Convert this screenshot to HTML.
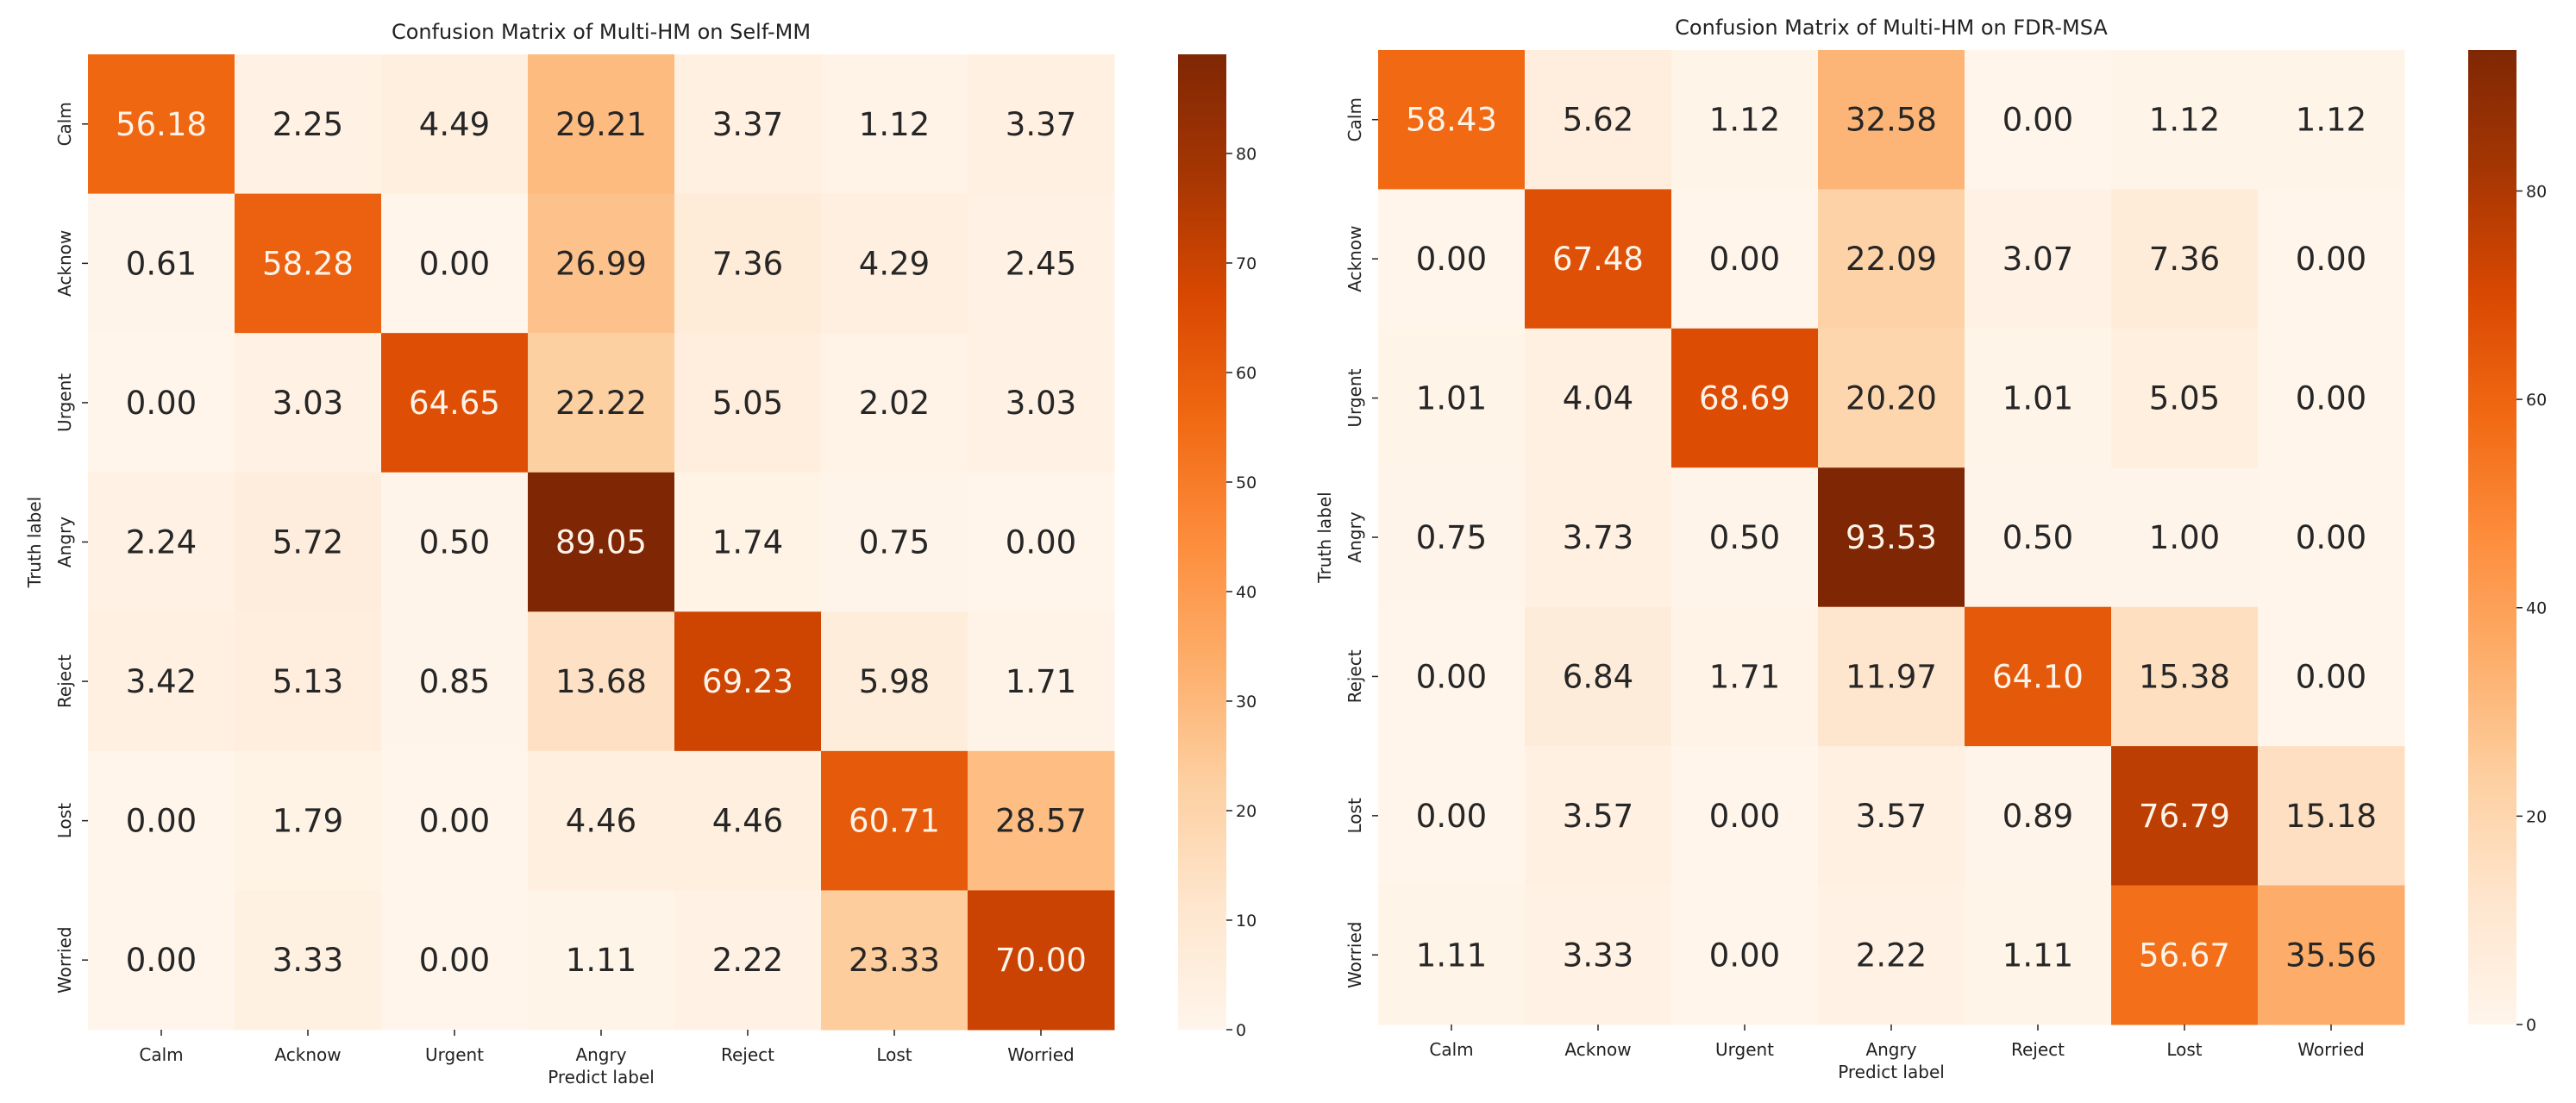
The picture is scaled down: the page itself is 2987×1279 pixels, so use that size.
<!DOCTYPE html>
<html><head><meta charset="utf-8"><style>
html,body{margin:0;padding:0;background:#fff;}
svg{display:block;font-family:"DejaVu Sans","Liberation Sans",sans-serif;}
</style></head><body>
<svg id="chart" width="2987" height="1279" viewBox="0 0 2987 1279"></svg>
<script>
const labels = ["Calm","Acknow","Urgent","Angry","Reject","Lost","Worried"];
const selfMM = [
 [56.18,2.25,4.49,29.21,3.37,1.12,3.37],
 [0.61,58.28,0.00,26.99,7.36,4.29,2.45],
 [0.00,3.03,64.65,22.22,5.05,2.02,3.03],
 [2.24,5.72,0.50,89.05,1.74,0.75,0.00],
 [3.42,5.13,0.85,13.68,69.23,5.98,1.71],
 [0.00,1.79,0.00,4.46,4.46,60.71,28.57],
 [0.00,3.33,0.00,1.11,2.22,23.33,70.00]
];
const fdrMSA = [
 [58.43,5.62,1.12,32.58,0.00,1.12,1.12],
 [0.00,67.48,0.00,22.09,3.07,7.36,0.00],
 [1.01,4.04,68.69,20.20,1.01,5.05,0.00],
 [0.75,3.73,0.50,93.53,0.50,1.00,0.00],
 [0.00,6.84,1.71,11.97,64.10,15.38,0.00],
 [0.00,3.57,0.00,3.57,0.89,76.79,15.18],
 [1.11,3.33,0.00,2.22,1.11,56.67,35.56]
];
const leftTicks = [0,10,20,30,40,50,60,70,80];
const rightTicks = [0,20,40,60,80];
const titles = ["Confusion Matrix of Multi-HM on Self-MM","Confusion Matrix of Multi-HM on FDR-MSA"];

const NS="http://www.w3.org/2000/svg";
const svg=document.getElementById('chart');
const stops=["#fff5eb","#fee6ce","#fdd0a2","#fdae6b","#fd8d3c","#f16913","#d94801","#a63603","#7f2704"];
function hex(h){return [1,3,5].map(i=>parseInt(h.substr(i,2),16));}
function cmap(t){t=Math.max(0,Math.min(1,t));const p=t*8;const i=Math.min(7,Math.floor(p));const f=p-i;const a=hex(stops[i]),b=hex(stops[i+1]);return a.map((v,k)=>Math.round(v+(b[k]-v)*f));}
function rgb(c){return `rgb(${c[0]},${c[1]},${c[2]})`;}
function lum(c){const l=c.map(v=>{v/=255;return v<=0.03928?v/12.92:Math.pow((v+0.055)/1.055,2.4);});return 0.2126*l[0]+0.7152*l[1]+0.0722*l[2];}
function el(tag,attrs,parent){const e=document.createElementNS(NS,tag);for(const k in attrs)e.setAttribute(k,attrs[k]);(parent||svg).appendChild(e);return e;}

function drawPanel(data,ticks,cfg,title,idx){
  const g=el('g',{});
  
  
  let vmax=0;data.forEach(r=>r.forEach(v=>{if(v>vmax)vmax=v;}));
  const cw=(cfg.x1-cfg.x0)/7, ch=(cfg.y1-cfg.y0)/7;
  const xs=i=>cfg.x0+i*cw, ys=j=>cfg.y0+j*ch;
  data.forEach((row,j)=>row.forEach((v,i)=>{
    const c=cmap(v/vmax);
    const r=el('rect',{x:xs(i),y:ys(j),width:cw+0.5,height:ch+0.5,fill:rgb(c)},g);
    
    
    const t=el('text',{x:xs(i)+cw/2,y:ys(j)+ch/2+13,'text-anchor':'middle','font-size':37,fill:lum(c)<0.408?'#fdf3e8':'#262626'},g);
    t.textContent=v.toFixed(2);
    
    
  }));
  labels.forEach((lab,i)=>{
    el('line',{x1:xs(i)+cw/2,x2:xs(i)+cw/2,y1:cfg.y1,y2:cfg.y1+7,stroke:'#222','stroke-width':1.5},g);
    const t=el('text',{x:xs(i)+cw/2,y:cfg.y1+36,'text-anchor':'middle','font-size':20,fill:'#222'},g);
    t.textContent=lab;
    
    
    const cy=ys(i)+ch/2;
    el('line',{x1:cfg.x0-7,x2:cfg.x0,y1:cy,y2:cy,stroke:'#222','stroke-width':1.5},g);
    const ty=el('text',{x:0,y:0,'text-anchor':'middle','font-size':20,fill:'#222',transform:`translate(${cfg.x0-20},${cy}) rotate(-90)`},g);
    ty.textContent=lab;
    
    
  });
  const tt=el('text',{x:(cfg.x0+cfg.x1)/2,y:cfg.y0-18,'text-anchor':'middle','font-size':24,fill:'#222'},g);
  tt.textContent=title;
  
  
  const xl=el('text',{x:(cfg.x0+cfg.x1)/2,y:cfg.y1+62,'text-anchor':'middle','font-size':20,fill:'#222'},g);
  xl.textContent='Predict label';
  
  
  const yl=el('text',{x:0,y:0,'text-anchor':'middle','font-size':20,fill:'#222',transform:`translate(${cfg.x0-55},${(cfg.y0+cfg.y1)/2}) rotate(-90)`},g);
  yl.textContent='Truth label';
  
  
  const defs=el('defs',{},g);
  const gid='grad'+idx;
  const lg=el('linearGradient',{id:gid,x1:0,y1:1,x2:0,y2:0},defs);
  for(let k=0;k<=8;k++)el('stop',{offset:k/8,'stop-color':stops[k]},lg);
  const cb=el('rect',{x:cfg.cb0,y:cfg.y0,width:cfg.cb1-cfg.cb0,height:cfg.y1-cfg.y0,fill:`url(#${gid})`},g);
  
  
  const cys=v=>cfg.y1-(v/vmax)*(cfg.y1-cfg.y0);
  ticks.forEach(v=>{
    el('line',{x1:cfg.cb1,x2:cfg.cb1+7,y1:cys(v),y2:cys(v),stroke:'#222','stroke-width':1.5},g);
    const t=el('text',{x:cfg.cb1+11,y:cys(v)+7,'font-size':19,fill:'#222'},g);
    t.textContent=v;
    
    
  });
}
drawPanel(selfMM,leftTicks,{x0:102,x1:1292,y0:63,y1:1194,cb0:1366,cb1:1422},titles[0],'self-mm');
drawPanel(fdrMSA,rightTicks,{x0:1598,x1:2788,y0:58,y1:1188,cb0:2862,cb1:2918},titles[1],'fdr-msa');
</script>
</body></html>
